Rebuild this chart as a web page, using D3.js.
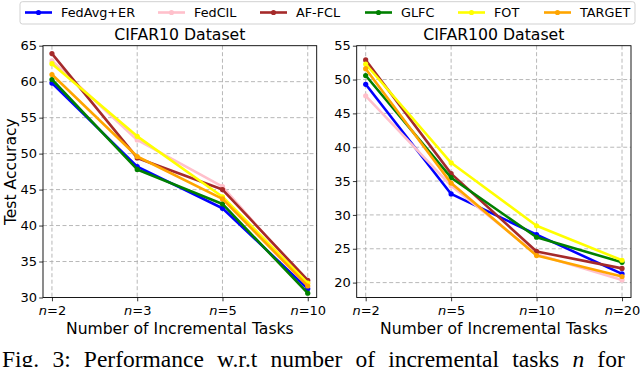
<!DOCTYPE html>
<html>
<head>
<meta charset="utf-8">
<title>Incremental tasks</title>
<script src="https://cdn.jsdelivr.net/npm/d3@7"></script>
<style>
  body { margin: 0; background: #fff; }
  svg { display: block; font-family: "DejaVu Sans", sans-serif; }
  .grid line { stroke: #b0b0b0; stroke-dasharray: 4 2.5; stroke-width: 0.9; }
  .tick text { font-size: 13px; fill: #000; font-family: "DejaVu Sans", sans-serif; }
</style>
</head>
<body>
<svg id="chart" width="640" height="367"></svg>
<script>
// series names and colours
const methods = ["FedAvg+ER", "FedCIL", "AF-FCL", "GLFC", "FOT", "TARGET"];
const colors = ["#0000ff", "#ffc0cb", "#a52a2a", "#008000", "#ffff00", "#ffa500"];

// CIFAR10
const tasks10 = ["2", "3", "5", "10"];
const fedavg10 = [59.8, 48.2, 42.4, 31.2];
const fedcil10 = [62.9, 51.9, 45.4, 32.0];
const affcl10 = [63.9, 49.4, 45.0, 32.4];
const glfc10 = [60.3, 47.8, 43.0, 30.6];
const fot10 = [62.5, 52.4, 44.0, 32.0];
const target10 = [61.0, 49.6, 43.7, 31.6];

// CIFAR100
const tasks100 = ["2", "5", "10", "20"];
const fedavg100 = [49.3, 33.1, 27.1, 21.3];
const fedcil100 = [47.6, 34.3, 24.2, 20.4];
const affcl100 = [52.9, 36.1, 24.6, 22.1];
const glfc100 = [50.6, 35.5, 26.7, 23.0];
const fot100 = [52.3, 37.7, 28.4, 23.3];
const target100 = [51.6, 34.7, 24.0, 20.9];

const yTicks10 = [30, 35, 40, 45, 50, 55, 60, 65];
const yTicks100 = [20, 25, 30, 35, 40, 45, 50, 55];

const svg = d3.select("#chart");

function panel(opts) {
  const { left, right, top, bottom, tasks, series, yDomain, yTicks, title } = opts;
  const g = svg.append("g");

  // small matplotlib-like margins at both ends
  const step = (right - left) / (tasks.length - 1 + 0.21);
  const x = d3.scalePoint().domain(tasks)
    .range([left + step * 0.105, right - step * 0.105]).padding(0);
  const y = d3.scaleLinear().domain(yDomain).range([bottom, top]);

  // grid
  g.append("g").attr("class", "grid")
    .selectAll("line").data(tasks).join("line")
    .attr("x1", d => x(d)).attr("x2", d => x(d))
    .attr("y1", top).attr("y2", bottom);
  g.append("g").attr("class", "grid")
    .selectAll("line").data(yTicks.filter(t => y(t) > top + 1 && y(t) < bottom - 1)).join("line")
    .attr("x1", left).attr("x2", right)
    .attr("y1", d => y(d)).attr("y2", d => y(d));

  // axes
  const yAxis = g.append("g").attr("transform", `translate(${left},0)`)
    .call(d3.axisLeft(y).tickValues(yTicks).tickSize(3.8).tickPadding(2.2));
  yAxis.select(".domain").remove();
  yAxis.selectAll(".tick line").attr("stroke", "#000").attr("stroke-width", 0.8);

  const xAxis = g.append("g").attr("transform", `translate(0,${bottom})`)
    .call(d3.axisBottom(x).tickSize(3.8).tickPadding(4.5).tickFormat(() => ""));
  xAxis.select(".domain").remove();
  xAxis.selectAll(".tick line").attr("stroke", "#000").attr("stroke-width", 0.8);
  xAxis.selectAll(".tick text").each(function(d) {
    const t = d3.select(this);
    t.append("tspan").attr("font-style", "italic").text("n");
    t.append("tspan").text("=" + d);
  });

  // lines
  const line = d3.line().x((d, i) => x(tasks[i])).y(d => y(d));
  series.forEach((vals, k) => {
    g.append("path").datum(vals)
      .attr("d", line)
      .attr("fill", "none")
      .attr("stroke", colors[k])
      .attr("stroke-width", 2.6)
      .attr("stroke-linejoin", "round");
    g.selectAll(null).data(vals).join("circle")
      .attr("cx", (d, i) => x(tasks[i]))
      .attr("cy", d => y(d))
      .attr("r", 2.6)
      .attr("fill", colors[k]);
  });

  // frame
  g.append("rect").attr("x", left).attr("y", top)
    .attr("width", right - left).attr("height", bottom - top)
    .attr("fill", "none").attr("stroke", "#000").attr("stroke-width", 0.9);

  g.append("text").attr("x", (left + right) / 2).attr("y", 39.5)
    .attr("text-anchor", "middle").attr("font-size", 15.7).text(title);
  g.append("text").attr("x", (left + right) / 2).attr("y", 334)
    .attr("text-anchor", "middle").attr("font-size", 15.6)
    .text("Number of Incremental Tasks");
}

panel({
  left: 43, right: 316.7, top: 45.7, bottom: 297.5,
  tasks: tasks10,
  series: [fedavg10, fedcil10, affcl10, glfc10, fot10, target10],
  yDomain: [30, 65], yTicks: yTicks10, title: "CIFAR10 Dataset"
});

panel({
  left: 356.7, right: 631, top: 45.7, bottom: 297.5,
  tasks: tasks100,
  series: [fedavg100, fedcil100, affcl100, glfc100, fot100, target100],
  yDomain: [17.8, 55], yTicks: yTicks100, title: "CIFAR100 Dataset"
});

// y label
svg.append("text")
  .attr("transform", "translate(15.5,171.7) rotate(-90)")
  .attr("text-anchor", "middle").attr("font-size", 15.6)
  .text("Test Accuracy");

// legend
const legendX = [25, 158, 260, 365, 458, 544];
const leg = svg.append("g");
leg.append("rect").attr("x", 20).attr("y", 1.7).attr("width", 615).attr("height", 22.3)
  .attr("rx", 2.5).attr("fill", "#fff").attr("stroke", "#cccccc").attr("stroke-width", 0.9);
methods.forEach((m, k) => {
  const lx = legendX[k];
  leg.append("line").attr("x1", lx).attr("x2", lx + 27).attr("y1", 12.5).attr("y2", 12.5)
    .attr("stroke", colors[k]).attr("stroke-width", 2.6);
  leg.append("circle").attr("cx", lx + 13.5).attr("cy", 12.5).attr("r", 2.6).attr("fill", colors[k]);
  leg.append("text").attr("x", lx + 36).attr("y", 17).attr("font-size", 12.8).text(m);
});

// caption (justified in the paper, so the gaps are between words), cut by the bottom edge
const caption = svg.append("text").attr("x", 2).attr("y", 367)
  .attr("font-family", "'Liberation Serif', serif").attr("font-size", 23.5)
  .html('Fig. 3: Performance w.r.t number of incremental tasks <tspan font-style="italic">n</tspan> for');
const natural = caption.node().getComputedTextLength();
caption.attr("word-spacing", Math.max(0, (630 - natural) / 10));
</script>
</body>
</html>
